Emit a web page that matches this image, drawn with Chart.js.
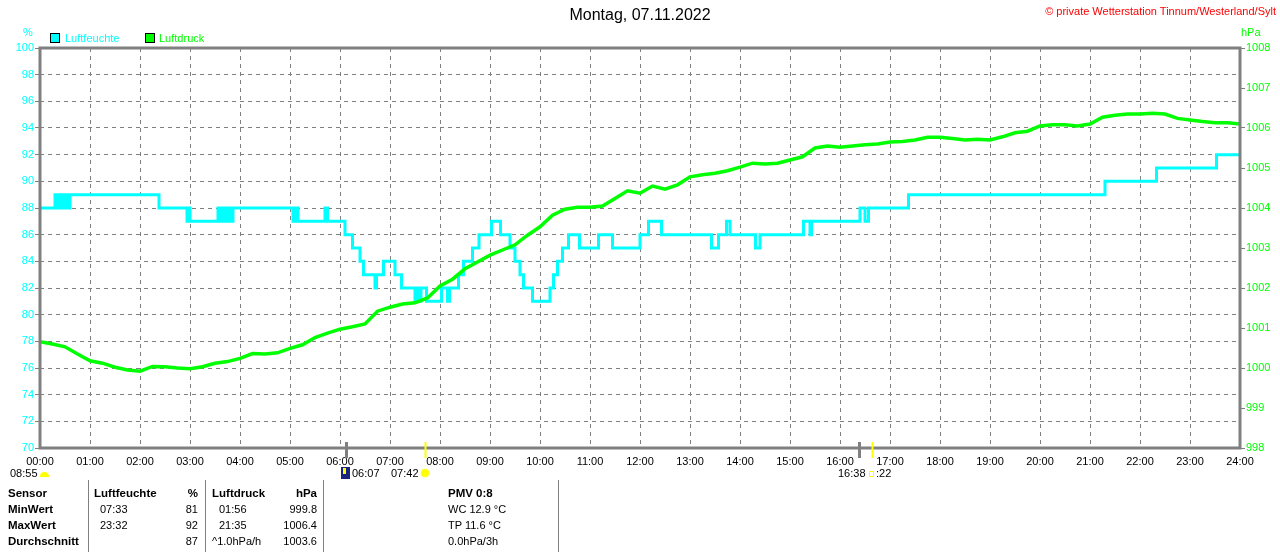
<!DOCTYPE html>
<html>
<head>
<meta charset="utf-8">
<script src="https://cdn.jsdelivr.net/npm/chart.js@4.4.0/dist/chart.umd.min.js"></script>
<style>
  body { margin: 0; background: #fff; }
  #wrap { position: relative; width: 1280px; height: 552px; overflow: hidden; font-family: "Liberation Sans", Arial, sans-serif; }
  #chart { position: absolute; left: 0; top: 0; }
  .t { position: absolute; white-space: nowrap; font-size: 11px; line-height: 13px; color: #000; }
  .b { font-weight: bold; font-size: 11.5px; }
  .r { text-align: right; }
  .vl { position: absolute; width: 1px; background: #808080; top: 480px; height: 72px; }
</style>
</head>
<body>
<div id="wrap">
  <canvas id="chart" width="1280" height="552"></canvas>

  <div class="t" style="left:0;width:1280px;text-align:center;top:6px;font-size:16px;line-height:18px;">Montag, 07.11.2022</div>
  <div class="t" style="right:4px;top:5px;color:#ff0000;font-size:11px;">&copy; private Wetterstation Tinnum/Westerland/Sylt</div>

  <div class="t" style="left:23px;top:26px;color:#00ffff;">%</div>
  <div class="t" style="left:1241px;top:26px;color:#00ff00;">hPa</div>

  <div style="position:absolute;left:50px;top:33px;width:8px;height:8px;border:1px solid #000;background:#00ffff;"></div>
  <div class="t" style="left:65px;top:32px;color:#00ffff;">Luftfeuchte</div>
  <div style="position:absolute;left:145px;top:33px;width:8px;height:8px;border:1px solid #000;background:#00ff00;"></div>
  <div class="t" style="left:159px;top:32px;color:#00ff00;">Luftdruck</div>

  <!-- sun / twilight row -->
  <div class="t" style="left:10px;top:467px;">08:55</div>
  <div style="position:absolute;left:40px;top:472px;width:9px;height:5px;background:#ffff00;border-radius:5px 5px 0 0;"></div>
  <div style="position:absolute;left:341px;top:467px;width:9px;height:12px;background:#1a237e;"></div>
  <div style="position:absolute;left:343px;top:468px;width:3px;height:6px;background:#ffff00;"></div>
  <div class="t" style="left:352px;top:467px;">06:07</div>
  <div class="t" style="left:391px;top:467px;">07:42</div>
  <div style="position:absolute;left:421px;top:469px;width:8px;height:8px;background:#ffff00;border-radius:50%;box-shadow:0 0 2px #ffff66;"></div>
  <div class="t" style="left:838px;top:467px;">16:38</div>
  <div style="position:absolute;left:869px;top:471px;width:3px;height:4px;border:1px solid #ffff00;"></div>
  <div class="t" style="left:876px;top:467px;">:22</div>

  <!-- table -->
  <div class="vl" style="left:88px;"></div>
  <div class="vl" style="left:205px;"></div>
  <div class="vl" style="left:323px;"></div>
  <div class="vl" style="left:558px;"></div>

  <div class="t b" style="left:8px;top:487px;">Sensor</div>
  <div class="t b" style="left:8px;top:503px;">MinWert</div>
  <div class="t b" style="left:8px;top:519px;">MaxWert</div>
  <div class="t b" style="left:8px;top:535px;">Durchschnitt</div>

  <div class="t b" style="left:94px;top:487px;">Luftfeuchte</div>
  <div class="t b r" style="left:150px;width:48px;top:487px;">%</div>
  <div class="t" style="left:100px;top:503px;">07:33</div>
  <div class="t" style="left:100px;top:519px;">23:32</div>
  <div class="t r" style="left:150px;width:48px;top:503px;">81</div>
  <div class="t r" style="left:150px;width:48px;top:519px;">92</div>
  <div class="t r" style="left:150px;width:48px;top:535px;">87</div>

  <div class="t b" style="left:212px;top:487px;">Luftdruck</div>
  <div class="t b r" style="left:260px;width:57px;top:487px;">hPa</div>
  <div class="t" style="left:219px;top:503px;">01:56</div>
  <div class="t" style="left:219px;top:519px;">21:35</div>
  <div class="t" style="left:212px;top:535px;">^1.0hPa/h</div>
  <div class="t r" style="left:260px;width:57px;top:503px;">999.8</div>
  <div class="t r" style="left:260px;width:57px;top:519px;">1006.4</div>
  <div class="t r" style="left:260px;width:57px;top:535px;">1003.6</div>

  <div class="t b" style="left:448px;top:487px;">PMV 0:8</div>
  <div class="t" style="left:448px;top:503px;">WC 12.9 &deg;C</div>
  <div class="t" style="left:448px;top:519px;">TP 11.6 &deg;C</div>
  <div class="t" style="left:448px;top:535px;">0.0hPa/3h</div>
</div>

<script>
// humidity (%): time in hours where a new value starts
var humTimes = [0, 0.30, 0.35, 0.40, 0.45, 0.50, 0.55, 0.60, 2.38, 2.94, 2.97, 3.00, 3.56, 3.62, 3.66, 3.72, 3.76, 3.82, 3.86,
  5.06, 5.10, 5.16, 5.70, 5.75, 6.10, 6.25, 6.40, 6.47, 6.70, 6.73, 6.87, 7.10, 7.23, 7.50, 7.54, 7.58, 7.62, 7.73,
  8.03, 8.15, 8.19, 8.37, 8.47, 8.65, 8.78, 9.03, 9.21, 9.40, 9.50, 9.60, 9.67, 9.85, 10.20, 10.27, 10.35, 10.45,
  10.57, 10.79, 11.17, 11.45, 12.00, 12.17, 12.43, 13.43, 13.57, 13.73, 13.80, 14.31, 14.40, 15.27, 15.40, 15.43,
  16.40, 16.50, 16.57, 17.37, 21.30, 22.33, 23.53, 24.00];
var humValues = [88, 89, 88, 89, 88, 89, 88, 89, 88, 87, 88, 87, 88, 87, 88, 87, 88, 87, 88,
  87, 88, 87, 88, 87, 86, 85, 84, 83, 82, 83, 84, 83, 82, 81, 82, 81, 82, 81,
  82, 81, 82, 83, 84, 85, 86, 87, 86, 85, 84, 83, 82, 81, 82, 83, 84, 85,
  86, 85, 86, 85, 86, 87, 86, 85, 86, 87, 86, 85, 86, 87, 86, 87,
  88, 87, 88, 89, 90, 91, 92, 92];

// pressure (hPa), read every 15 minutes
var pressTimes = [0, 0.25, 0.5, 0.75, 1, 1.25, 1.5, 1.75, 2, 2.25, 2.5, 2.75, 3, 3.25, 3.5, 3.75,
  4, 4.25, 4.5, 4.75, 5, 5.25, 5.5, 5.75, 6, 6.25, 6.5, 6.75, 7, 7.25, 7.5, 7.75,
  8, 8.25, 8.5, 8.75, 9, 9.25, 9.5, 9.75, 10, 10.25, 10.5, 10.75, 11, 11.25, 11.5, 11.75,
  12, 12.25, 12.5, 12.75, 13, 13.25, 13.5, 13.75, 14, 14.25, 14.5, 14.75, 15, 15.25, 15.5, 15.75,
  16, 16.25, 16.5, 16.75, 17, 17.25, 17.5, 17.75, 18, 18.25, 18.5, 18.75, 19, 19.25, 19.5, 19.75,
  20, 20.25, 20.5, 20.75, 21, 21.25, 21.5, 21.75, 22, 22.25, 22.5, 22.75, 23, 23.25, 23.5, 23.75, 24];
var pressValues = [1000.66, 1000.60, 1000.53, 1000.35, 1000.18, 1000.12, 1000.02, 999.95, 999.92, 1000.04, 1000.03, 1000.00, 999.98, 1000.03, 1000.12, 1000.16,
  1000.24, 1000.36, 1000.35, 1000.38, 1000.49, 1000.58, 1000.76, 1000.87, 1000.97, 1001.03, 1001.10, 1001.42, 1001.52, 1001.60, 1001.63, 1001.75,
  1002.05, 1002.22, 1002.48, 1002.65, 1002.82, 1002.95, 1003.08, 1003.32, 1003.53, 1003.82, 1003.97, 1004.02, 1004.02, 1004.05, 1004.24, 1004.43,
  1004.37, 1004.55, 1004.47, 1004.58, 1004.78, 1004.83, 1004.87, 1004.93, 1005.02, 1005.12, 1005.10, 1005.12, 1005.20, 1005.28, 1005.50, 1005.55,
  1005.52, 1005.55, 1005.58, 1005.60, 1005.65, 1005.66, 1005.70, 1005.77, 1005.77, 1005.74, 1005.70, 1005.72, 1005.70, 1005.78, 1005.88, 1005.92,
  1006.05, 1006.08, 1006.08, 1006.05, 1006.10, 1006.27, 1006.32, 1006.35, 1006.35, 1006.37, 1006.35, 1006.24, 1006.20, 1006.16, 1006.13, 1006.13, 1006.10];

// twilight / sun markers on the time axis
var markerTimes = [6.117, 7.70, 16.38, 16.633];
var markerColors = ['#808080', '#ffff00', '#808080', '#ffff00'];

var humPoints = [];
for (var i = 0; i < humTimes.length; i++) humPoints.push({x: humTimes[i], y: humValues[i]});
var pressPoints = [];
for (var j = 0; j < pressTimes.length; j++) pressPoints.push({x: pressTimes[j], y: pressValues[j]});

var tickFont = {family: 'Liberation Sans', size: 11};
var gridDash = [4, 4];

// frame round the plot and the sun markers below it
var framePlugin = {
  id: 'frame',
  afterDatasetsDraw: function(chart) {
    var a = chart.chartArea, ctx = chart.ctx;
    ctx.save();
    ctx.setLineDash([]);
    ctx.strokeStyle = '#808080';
    ctx.lineWidth = 3;
    ctx.strokeRect(a.left, a.top, a.right - a.left, a.bottom - a.top);
    var xs = chart.scales.x;
    for (var k = 0; k < markerTimes.length; k++) {
      var px = Math.round(xs.getPixelForValue(markerTimes[k])) + 0.5;
      ctx.strokeStyle = markerColors[k];
      ctx.lineWidth = markerColors[k] === '#808080' ? 3 : 2;
      ctx.beginPath();
      ctx.moveTo(px, a.bottom - 6);
      ctx.lineTo(px, a.bottom + 10);
      ctx.stroke();
    }
    ctx.restore();
  }
};

var ctx = document.getElementById('chart').getContext('2d');
window.myChart = new Chart(ctx, {
  type: 'line',
  data: {
    datasets: [{
      label: 'Luftdruck',
      data: pressPoints,
      yAxisID: 'y1',
      borderColor: '#00ff00',
      borderWidth: 3.5,
      pointRadius: 0,
      tension: 0,
      order: 0
    }, {
      label: 'Luftfeuchte',
      data: humPoints,
      yAxisID: 'y',
      borderColor: '#00ffff',
      borderWidth: 3,
      pointRadius: 0,
      stepped: true,
      order: 1
    }]
  },
  options: {
    responsive: false,
    animation: false,
    layout: {padding: {top: 48, bottom: 84, left: 0, right: 0}},
    plugins: {legend: {display: false}, tooltip: {enabled: false}},
    scales: {
      x: {
        type: 'linear',
        min: 0,
        max: 24,
        afterFit: function(s) { s.height = 20; },
        border: {display: false, dash: gridDash},
        grid: {color: '#808080', drawTicks: false},
        ticks: {
          stepSize: 1,
          color: '#000',
          font: tickFont,
          padding: 7,
          maxRotation: 0,
          autoSkip: false,
          callback: function(v) { return (v < 10 ? '0' : '') + v + ':00'; }
        }
      },
      y: {
        position: 'left',
        min: 70,
        max: 100,
        afterFit: function(s) { s.width = 40; },
        border: {display: false, dash: gridDash},
        grid: {color: '#808080', tickLength: 5, tickColor: '#808080'},
        ticks: {stepSize: 2, color: '#00ffff', font: tickFont, padding: 1,
          callback: function(v) { return String(v); }}
      },
      y1: {
        position: 'right',
        min: 998,
        max: 1008,
        afterFit: function(s) { s.width = 40; },
        border: {display: false},
        grid: {drawOnChartArea: false, tickLength: 5, tickColor: '#808080'},
        ticks: {stepSize: 1, color: '#00ff00', font: tickFont, padding: 1,
          callback: function(v) { return String(v); }}
      }
    }
  },
  plugins: [framePlugin]
});
</script>
</body>
</html>
